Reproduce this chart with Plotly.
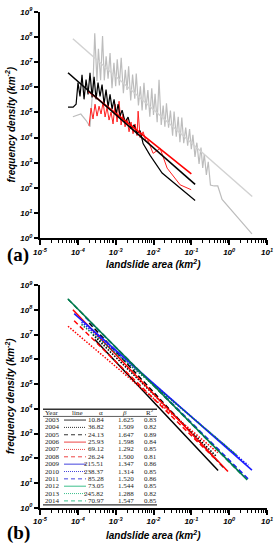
import plotly.graph_objects as go

# ---------------- Panel (a) data ----------------
gray_area = [7.4e-5, 1.2e-4, 1.66e-4, 2.1e-4, 2.5e-4, 2.8e-4, 3.2e-4, 3.5e-4, 4.0e-4, 4.5e-4,
             5.0e-4, 5.6e-4, 6.3e-4, 7.1e-4, 8.0e-4, 9.0e-4,
             1.0e-3, 1.1e-3, 1.25e-3, 1.4e-3, 1.6e-3, 1.8e-3, 2.0e-3, 2.2e-3, 2.5e-3, 2.8e-3,
             3.2e-3, 3.5e-3, 4.0e-3, 4.5e-3, 5.0e-3, 5.6e-3, 6.3e-3, 7.1e-3, 8.0e-3, 9.0e-3,
             1.0e-2, 1.1e-2, 1.25e-2, 1.4e-2, 1.6e-2, 1.8e-2, 2.0e-2, 2.2e-2, 2.5e-2, 2.8e-2,
             3.2e-2, 3.5e-2, 4.0e-2, 4.5e-2, 5.0e-2, 5.6e-2, 6.3e-2, 7.1e-2, 8.0e-2, 9.0e-2,
             0.10, 0.11, 0.125, 0.14, 0.16, 0.18, 0.20, 0.22, 0.25, 0.28, 0.32, 0.40, 0.50, 0.65, 4.0]
gray_density = [6.8e4, 8.7e4, 4.8e4, 2.7e4, 1.0e6, 1.4e8, 1.8e6, 3.4e7, 1.9e6, 1.1e8,
                1.9e6, 1.7e7, 2.2e6, 2.3e7, 9.3e5, 9.5e6,
                1.1e6, 1.3e7, 1.2e6, 1.5e7, 5.8e5, 5.0e6, 7.8e5, 6.9e6, 3.0e5, 3.2e6,
                3.5e5, 3.5e6, 1.9e5, 1.1e6, 1.2e5, 1.5e6, 1.3e5, 7.8e5, 6.8e4, 9.1e5,
                7.9e4, 5.5e5, 4.1e4, 2.0e6, 3.2e4, 1.9e5, 2.7e4, 2.3e5, 2.5e4, 1.2e5,
                1.2e4, 1.1e5, 1.1e4, 6.8e4, 6.6e3, 6.3e4, 6.0e3, 2.5e4, 4.8e3, 2.2e4,
                3.5e3, 1.3e4, 1.7e3, 6.3e3, 9.1e2, 4.0e3, 6.2e2, 2.2e3, 3.3e2, 1.1e3, 1.3e2, 1.2e2, 1.2e2, 3.5e1, 1.5]
gray_fit_area = [7.4e-5, 4.07]
gray_fit_density = [8.5e7, 46]

black_area = [5.5e-5, 7.5e-5, 9.0e-5, 1.01e-4, 1.14e-4, 1.29e-4, 1.46e-4, 1.65e-4, 1.86e-4, 2.10e-4,
              2.38e-4, 2.69e-4, 3.03e-4, 3.42e-4, 3.86e-4, 4.37e-4, 4.93e-4, 5.57e-4, 6.30e-4, 7.11e-4,
              8.04e-4, 9.08e-4, 1.03e-3, 1.16e-3, 1.31e-3, 1.48e-3, 1.77e-3, 2.13e-3, 2.55e-3, 3.07e-3,
              3.68e-3, 4.43e-3, 5.31e-3, 8.13e-3, 1.69e-2, 1.26e-1]
black_density = [1.63e5, 1.63e5, 2.13e5, 1.54e6, 4.38e5, 3.16e6, 3.34e5, 2.02e6, 5.23e5, 3.79e6,
                 4.0e5, 2.64e6, 3.34e5, 1.54e6, 4.38e5, 1.29e6, 2.13e5, 8.2e5, 1.63e5, 5.23e5,
                 1.36e5, 3.34e5, 8.7e4, 2.13e5, 7.2e4, 1.24e5, 4.2e4, 6.6e4, 2.25e4, 3.2e4,
                 1.43e4, 1.88e4, 5.8e3, 1.98e3, 393, 31.6]
black_fit_area = [5.5e-5, 0.126]
black_fit_density = [3.8e6, 138]

red_area = [1.98e-4, 2.23e-4, 2.52e-4, 2.85e-4, 3.22e-4, 3.64e-4, 4.11e-4, 4.65e-4, 5.25e-4, 5.92e-4,
            6.69e-4, 7.55e-4, 8.53e-4, 9.64e-4, 1.09e-3, 1.23e-3, 1.39e-3, 1.57e-3, 1.77e-3, 2.0e-3,
            2.26e-3, 2.55e-3, 2.88e-3, 3.26e-3, 3.68e-3, 3.92e-3, 4.43e-3, 5.31e-3, 6.37e-3, 7.19e-3,
            9.76e-3, 1.50e-2, 2.29e-2, 5.06e-2, 9.9e-2]
red_density = [2.94e4, 1.49e5, 5.52e4, 2.13e5, 7.2e4, 1.78e5, 8.7e4, 2.55e5, 6.6e4, 1.63e5,
               5.0e4, 1.04e5, 3.5e4, 2.13e5, 4.2e4, 2.79e5, 3.2e4, 8.7e4, 2.69e4, 5.52e4,
               1.71e4, 4.2e4, 1.43e4, 3.5e4, 1.2e4, 1.13e5, 1.0e4, 1.71e4, 6.98e3, 7.6e3,
               2.37e3, 3.72e3, 615, 133, 85]
red_fit_area = [1.9e-4, 0.1]
red_fit_density = [6.9e5, 359]

# ---------------- Panel (b) data ----------------
years = [2003, 2004, 2005, 2006, 2007, 2008, 2009, 2010, 2011, 2012, 2013, 2014]
alpha = [10.84, 36.82, 24.13, 25.93, 69.12, 26.24, 215.51, 238.37, 85.28, 73.05, 245.82, 70.97]
beta = [1.625, 1.509, 1.647, 1.598, 1.292, 1.500, 1.347, 1.314, 1.520, 1.544, 1.288, 1.547]
r_squared = ["0.83", "0.82", "0.89", "0.84", "0.85", "0.81", "0.86", "0.85", "0.86", "0.85", "0.82", "0.85"]
alpha_text = ["10.84", "36.82", "24.13", "25.93", "69.12", "26.24", "215.51", "238.37", "85.28", "73.05", "245.82", "70.97"]
beta_text = ["1.625", "1.509", "1.647", "1.598", "1.292", "1.500", "1.347", "1.314", "1.520", "1.544", "1.288", "1.547"]
area_start = [2.8e-4, 2.5e-4, 2.0e-4, 7.4e-5, 5.5e-5, 8.0e-5, 8.0e-5, 1.25e-4, 1.6e-4, 5.4e-5, 1.25e-4, 5.6e-5]
area_end = [0.51, 0.45, 0.8, 0.93, 0.5, 0.4, 4.0, 3.2, 3.5, 3.0, 1.6, 2.0]

x_tick_vals = [1e-5, 1e-4, 1e-3, 1e-2, 1e-1, 1e0, 1e1]
x_tick_text = ["10<sup>-5</sup>", "10<sup>-4</sup>", "10<sup>-3</sup>", "10<sup>-2</sup>",
               "10<sup>-1</sup>", "10<sup>0</sup>", "10<sup>1</sup>"]
y_tick_vals = [10 ** k for k in range(0, 10)]
y_tick_text = ["10<sup>%d</sup>" % k for k in range(0, 10)]

# ---------------- styling ----------------
W, H = 277, 550
ML, MR = 40, 10
PW = W - ML - MR


def px(xp):
    return (xp - ML) / PW


def py(yp):
    return (H - yp) / H


group_colors = ["#000000", "#ff0000", "#1a1aff", "#007a4d"]
legend_colors = ["#333333", "#ee4444", "#4444dd", "#3cbf8c"]
dashes = ["solid", "1.5px,1.5px", "5px,3px"]
legend_dashes = ["solid", "1px,1px", "4px,3px"]

fig = go.Figure()

# panel a
fig.add_trace(go.Scatter(x=gray_area, y=gray_density, mode="lines",
                         line=dict(color="#bdbdbd", width=1.2), xaxis="x", yaxis="y"))
fig.add_trace(go.Scatter(x=gray_fit_area, y=gray_fit_density, mode="lines",
                         line=dict(color="#d2d2d2", width=1.5), xaxis="x", yaxis="y"))
fig.add_trace(go.Scatter(x=red_area, y=red_density, mode="lines",
                         line=dict(color="#ff2020", width=1), xaxis="x", yaxis="y"))
fig.add_trace(go.Scatter(x=black_area, y=black_density, mode="lines",
                         line=dict(color="#000000", width=1.2), xaxis="x", yaxis="y"))
fig.add_trace(go.Scatter(x=red_fit_area, y=red_fit_density, mode="lines",
                         line=dict(color="#ff0000", width=1.6), xaxis="x", yaxis="y"))
fig.add_trace(go.Scatter(x=black_fit_area, y=black_fit_density, mode="lines",
                         line=dict(color="#000000", width=1.6), xaxis="x", yaxis="y"))

# panel b
for i, yr in enumerate(years):
    xs = [area_start[i], area_end[i]]
    ys = [alpha[i] * v ** (-beta[i]) for v in xs]
    fig.add_trace(go.Scatter(x=xs, y=ys, mode="lines",
                             line=dict(color=group_colors[i // 3], width=1.5, dash=dashes[i % 3]),
                             xaxis="x2", yaxis="y2"))

tickfont = dict(family="Liberation Sans", size=8, color="black", style="italic", weight="bold")
minor_vals = [m * 10 ** k for k in range(-5, 1) for m in range(2, 10)]

xcommon = dict(type="log", range=[-5, 1], showline=True, linecolor="black", linewidth=2,
               ticks="outside", ticklen=5, tickwidth=1.5, tickcolor="black",
               tickmode="array", tickvals=x_tick_vals, ticktext=x_tick_text, tickfont=tickfont,
               showgrid=False, zeroline=False,
               minor=dict(tickmode="array", tickvals=minor_vals, ticks="outside", ticklen=3,
                          tickwidth=1, tickcolor="black", showgrid=False))
ycommon = dict(type="log", range=[0, 9], showline=True, linecolor="black", linewidth=2,
               ticks="outside", ticklen=4, tickwidth=1.5, tickcolor="black",
               tickmode="array", tickvals=y_tick_vals, ticktext=y_tick_text, tickfont=tickfont,
               showgrid=False, zeroline=False)

ya_dom = [py(237), py(6)]
yb_dom = [py(512), py(285)]

fig.update_layout(
    width=W, height=H, margin=dict(l=ML, r=MR, t=0, b=0, pad=0),
    paper_bgcolor="white", plot_bgcolor="white", showlegend=False,
    xaxis=dict(domain=[0, 1], anchor="y", **xcommon),
    yaxis=dict(domain=ya_dom, anchor="x", **ycommon),
    xaxis2=dict(domain=[0, 1], anchor="y2", **xcommon),
    yaxis2=dict(domain=yb_dom, anchor="x2", **ycommon),
)

title_font = dict(family="Liberation Sans", size=10, color="black", style="italic", weight="bold")
ann = []
for (ty, yc, lab, ly) in [(263, 121, "(a)", 254), (540, 398, "(b)", 538)]:
    ann.append(dict(xref="paper", yref="paper", x=px(153), y=py(ty), text="landslide area (km<sup>2</sup>)",
                    showarrow=False, font=title_font, xanchor="center", yanchor="middle"))
    ann.append(dict(xref="paper", yref="paper", x=px(10), y=py(yc), text="frequency density (km<sup>-2</sup>)",
                    showarrow=False, font=title_font, textangle=-90, xanchor="center", yanchor="middle"))
    ann.append(dict(xref="paper", yref="paper", x=px(18), y=py(ly), text="<b>%s</b>" % lab,
                    showarrow=False, font=dict(family="Liberation Serif", size=19, color="black"),
                    xanchor="center", yanchor="middle"))

# table in panel (b)
tfont = dict(family="Liberation Serif", size=7, color="#222222")
hdr_y = 415
for (xx, txt) in [(52, "Year"), (77, "line"), (101, "α"), (124, "<i>β</i>"), (150, "R<sup>2</sup>")]:
    ann.append(dict(xref="paper", yref="paper", x=px(xx), y=py(hdr_y), text=txt, showarrow=False,
                    font=tfont, xanchor="center", yanchor="middle"))
shapes = []
for i, yr in enumerate(years):
    ry = 422.5 + 7.5 * i
    ann.append(dict(xref="paper", yref="paper", x=px(52), y=py(ry), text=str(yr), showarrow=False,
                    font=tfont, xanchor="center", yanchor="middle"))
    ann.append(dict(xref="paper", yref="paper", x=px(106), y=py(ry), text=alpha_text[i], showarrow=False,
                    font=tfont, xanchor="right", yanchor="middle"))
    ann.append(dict(xref="paper", yref="paper", x=px(126), y=py(ry), text=beta_text[i], showarrow=False,
                    font=tfont, xanchor="center", yanchor="middle"))
    ann.append(dict(xref="paper", yref="paper", x=px(150), y=py(ry), text=r_squared[i], showarrow=False,
                    font=tfont, xanchor="center", yanchor="middle"))
    shapes.append(dict(type="line", xref="paper", yref="paper", x0=px(64), x1=px(86), y0=py(ry), y1=py(ry),
                       line=dict(color=legend_colors[i // 3], width=1, dash=legend_dashes[i % 3])))
for (yy, wd) in [(411.5, 1.5), (418.8, 0.8), (509, 1.2)]:
    shapes.append(dict(type="line", xref="paper", yref="paper", x0=px(43), x1=px(157), y0=py(yy), y1=py(yy),
                       line=dict(color="#333333", width=wd)))

fig.update_layout(annotations=ann, shapes=shapes)
# remove the browser's default 8px page margin so the figure sits at the window's corner
fig.write_html("out.html", config={"displayModeBar": False},
               post_script="document.body.style.margin='0px';")
